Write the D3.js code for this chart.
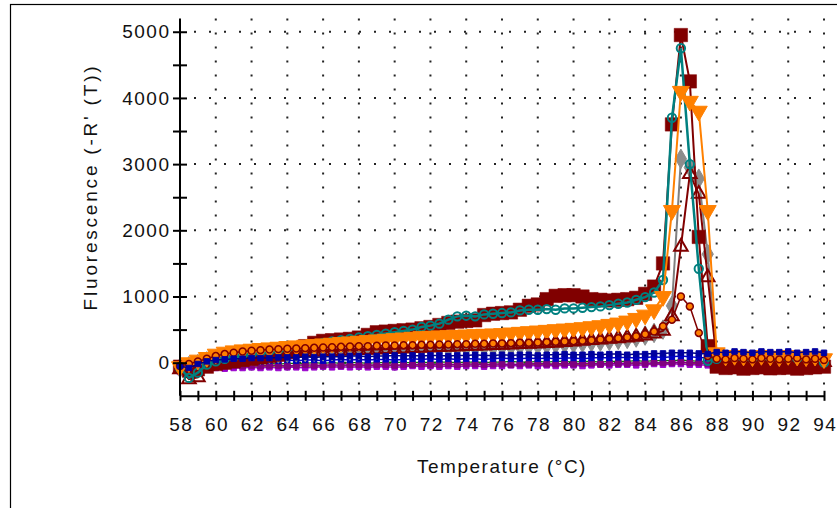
<!DOCTYPE html>
<html>
<head>
<meta charset="utf-8">
<script src="https://cdn.jsdelivr.net/npm/d3@7"></script>
<style>
  html, body { margin: 0; padding: 0; background: #fff; }
  svg { display: block; font-family: "Liberation Sans", Arial, sans-serif; }
</style>
</head>
<body>
<svg id="chart" width="837" height="508"></svg>
<script>
// Melt-curve derivative readings, one value per temperature step
const temps = [58,58.5,59,59.5,60,60.5,61,61.5,62,62.5,63,63.5,64,64.5,65,65.5,66,66.5,67,67.5,
  68,68.5,69,69.5,70,70.5,71,71.5,72,72.5,73,73.5,74,74.5,75,75.5,76,76.5,77,77.5,
  78,78.5,79,79.5,80,80.5,81,81.5,82,82.5,83,83.5,84,84.5,85,85.5,86,86.5,87,87.5,
  88,88.5,89,89.5,90,90.5,91,91.5,92,92.5,93,93.5,94];

const maroonSquares = [
  -60,-120,-100,-60,-20,0,20,40,60,80,
  100,120,160,200,250,300,330,340,350,360,
  380,420,460,470,480,490,500,520,540,570,
  600,620,630,640,720,740,750,760,800,860,
  880,960,1010,1020,1020,1000,960,950,940,950,
  960,980,1040,1150,1500,3600,4950,4250,1900,250,
  -60,-80,-70,-90,-80,-70,-85,-80,-75,-90,-80,-70,-60];

const tealCircles = [
  -80,-230,-150,-30,20,60,90,120,140,160,
  180,200,220,240,260,280,300,320,340,360,
  380,400,420,440,460,480,500,540,560,590,
  650,700,710,700,730,740,750,760,790,800,
  800,810,800,820,820,830,840,850,870,890,
  910,950,990,1060,1250,3700,4750,3000,1420,30,
  60,80,90,80,70,90,80,90,80,70,80,90,0];

const orangeTriangles = [
  -60,0,40,80,130,160,180,195,205,215,
  225,235,245,255,265,275,285,295,305,315,
  325,335,345,355,365,375,385,395,400,405,
  410,415,420,425,430,435,440,450,460,470,
  480,490,500,510,520,530,545,560,580,600,
  630,670,720,800,1000,2300,4100,3950,3800,2300,
  150,100,110,100,90,110,100,90,110,100,90,100,60];

const grayDiamonds = [
  -80,-50,-20,20,50,70,90,100,110,120,
  130,140,150,155,160,165,170,175,180,185,
  190,195,200,200,205,210,210,215,220,220,
  225,230,230,235,240,240,245,250,255,260,
  265,270,280,285,290,300,310,320,330,345,
  360,380,410,450,500,860,3080,2950,2780,1640,
  60,30,20,40,30,20,30,40,20,30,40,30,20];

const maroonOpenTriangles = [
  -100,-250,-220,-50,0,30,60,80,100,110,
  120,130,140,150,160,165,170,175,180,185,
  190,195,200,205,210,215,220,225,230,235,
  240,245,250,255,260,265,270,275,280,285,
  290,295,300,310,320,330,340,350,360,370,
  380,390,410,440,480,700,1750,2850,2550,1290,
  40,20,10,20,10,0,10,20,10,0,10,20,10];

const orangeDots = [
  -50,-20,20,60,100,130,150,170,180,190,
  200,205,210,215,220,225,230,235,240,245,
  250,250,255,260,260,265,265,270,270,275,
  275,280,280,285,285,290,290,295,300,300,
  305,310,315,320,325,330,340,350,360,370,
  385,400,430,470,550,650,1000,850,450,100,
  60,50,70,60,50,70,60,50,60,70,50,60,40];

const navyMarks = [
  -50,-80,-20,20,40,50,60,60,70,70,
  70,80,80,80,90,80,90,90,90,100,
  100,90,100,100,110,100,110,100,110,110,
  100,110,110,120,110,110,120,110,120,120,
  110,120,120,130,120,120,130,120,130,130,
  120,130,130,140,140,150,150,150,140,130,
  160,150,170,160,150,170,160,160,170,150,160,170,150];

const blueMarks = [
  -80,-60,-40,-10,0,10,20,20,30,20,
  30,30,40,30,40,40,30,40,50,40,
  50,40,50,50,40,50,60,50,60,50,
  60,50,60,60,50,60,70,60,60,70,
  60,70,60,70,70,60,70,80,70,80,
  80,70,80,90,80,90,100,90,80,70,
  90,80,90,100,80,90,100,90,80,100,90,80,70];

const purpleMarks = [
  -110,-130,-80,-60,-50,-50,-40,-50,-40,-50,
  -40,-40,-50,-40,-30,-40,-40,-30,-40,-30,
  -30,-40,-30,-30,-40,-30,-30,-20,-30,-30,
  -20,-30,-20,-20,-30,-20,-20,-30,-20,-20,
  -10,-20,-20,-10,-20,-10,-10,-20,-10,-10,
  -10,0,-10,0,0,0,10,0,0,-10,
  -10,-20,-10,-20,-10,-20,-10,-20,-20,-10,-20,-20,-30];

const violetMarks = [
  -140,-120,-100,-90,-80,-90,-80,-80,-70,-80,
  -70,-80,-70,-70,-80,-70,-60,-70,-60,-70,
  -60,-70,-60,-60,-70,-60,-50,-60,-50,-60,
  -50,-60,-50,-50,-60,-50,-50,-40,-50,-40,
  -50,-40,-50,-40,-40,-50,-40,-30,-40,-30,
  -30,-40,-30,-20,-30,-20,-20,-30,-30,-40,
  -50,-40,-50,-40,-50,-40,-50,-50,-40,-50,-40,-50,-60];

const greenMarks = [
  -90,-110,-60,-40,-30,-30,-20,-20,-20,-20,
  -10,-20,-10,-10,-10,0,-10,0,-10,0,
  0,-10,0,0,10,0,0,10,0,10,
  10,0,10,10,0,10,10,20,10,10,
  20,10,20,20,10,20,20,10,20,20,
  20,30,20,30,30,30,40,30,20,10,
  0,-10,0,-10,0,-10,0,-10,-10,0,-10,-10,-20];

const oliveMarks = [
  -120,-150,-100,-80,-70,-70,-60,-60,-60,-60,
  -60,-50,-60,-50,-50,-60,-50,-50,-50,-40,
  -50,-40,-50,-40,-40,-50,-40,-40,-40,-30,
  -40,-30,-40,-30,-30,-40,-30,-30,-30,-20,
  -30,-20,-30,-20,-20,-30,-20,-20,-20,-10,
  -20,-10,-20,-10,-10,-10,0,-10,-10,-20,
  -30,-40,-30,-40,-30,-40,-30,-40,-40,-30,-40,-40,-50];

const xTickValues = [58,59,60,61,62,63,64,65,66,67,68,69,70,71,72,73,74,75,76,77,78,79,80,81,82,83,84,85,86,87,88,89,90,91,92,93,94];
const xTickLabels = [58,60,62,64,66,68,70,72,74,76,78,80,82,84,86,88,90,92,94];
const yTickLabels = [0,1000,2000,3000,4000,5000];
const yMinorTicks = [500,1500,2500,3500,4500];

const svg = d3.select("#chart");
const FONT = 19, SPACING = 1.5;

// outer frame
svg.append("rect")
  .attr("x", 10.5).attr("y", 4.5).attr("width", 900).attr("height", 600)
  .attr("fill", "none").attr("stroke", "#000").attr("stroke-width", 1.2);

const x = d3.scaleLinear().domain([58, 94]).range([180, 824]);
const y = d3.scaleLinear().domain([-500, 5200]).range([395.8, 18.5]);

// dotted grid
const grid = svg.append("g").attr("stroke", "#222").attr("stroke-width", 2).attr("fill", "none");
grid.selectAll("line.h").data(yTickLabels).join("line")
  .attr("x1", x(58) + 14).attr("x2", x(94))
  .attr("y1", d => y(d)).attr("y2", d => y(d))
  .attr("stroke-dasharray", "2 13");
grid.selectAll("line.v").data(xTickLabels.slice(1)).join("line")
  .attr("x1", d => x(d)).attr("x2", d => x(d))
  .attr("y1", y(5200)).attr("y2", y(-500))
  .attr("stroke-dasharray", "2 12");

// series, drawn back to front
const series = [
  { values: oliveMarks, color: "#808000", shape: d3.symbolCircle, size: 24, fill: "#808000", stroke: "#808000", sw: 1, lw: 1.2 },
  { values: greenMarks, color: "#008000", shape: d3.symbolCircle, size: 24, fill: "#008000", stroke: "#008000", sw: 1, lw: 1.2 },
  { values: violetMarks, color: "#9900cc", shape: d3.symbolSquare, size: 30, fill: "#9900cc", stroke: "#9900cc", sw: 1, lw: 1.5 },
  { values: purpleMarks, color: "#800080", shape: d3.symbolSquare, size: 34, fill: "#800080", stroke: "#800080", sw: 1, lw: 1.5 },
  { values: blueMarks, color: "#0000c0", shape: d3.symbolSquare, size: 28, fill: "#0000c0", stroke: "#0000c0", sw: 1, lw: 1.5 },
  { values: grayDiamonds, color: "#808080", shape: d3.symbolDiamond, size: 110, fill: "#8c8c8c", stroke: "#8c8c8c", sw: 1, lw: 2 },
  { values: maroonOpenTriangles, color: "#800000", shape: d3.symbolTriangle, size: 80, fill: "none", stroke: "#800000", sw: 2, lw: 2 },
  { values: maroonSquares, color: "#800000", shape: d3.symbolSquare, size: 180, fill: "#800000", stroke: "#800000", sw: 0.5, lw: 2 },
  { values: tealCircles, color: "#008080", shape: d3.symbolCircle, size: 55, fill: "none", stroke: "#008080", sw: 2, lw: 2.5 },
  { values: orangeTriangles, color: "#ff8000", shape: d3.symbolTriangle, size: 125, fill: "#ff8000", stroke: "#ff8000", sw: 1, lw: 2, flip: true },
  { values: orangeDots, color: "#800000", shape: d3.symbolCircle, size: 38, fill: "#ff8000", stroke: "#800000", sw: 1.5, lw: 1.5 },
  { values: navyMarks, color: "#000080", shape: d3.symbolSquare, size: 30, fill: "#0000a0", stroke: "#0000a0", sw: 1, lw: 1.5 }
];

const line = d3.line().x((d, i) => x(temps[i])).y(d => y(d));

series.forEach(s => {
  const g = svg.append("g");
  g.append("path").datum(s.values)
    .attr("d", line)
    .attr("fill", "none").attr("stroke", s.color).attr("stroke-width", s.lw);
  g.selectAll("path.m").data(s.values).join("path")
    .attr("class", "m")
    .attr("d", d3.symbol().type(s.shape).size(s.size))
    .attr("transform", (d, i) => `translate(${x(temps[i])},${y(d)})` + (s.flip ? " rotate(180)" : ""))
    .attr("fill", s.fill).attr("stroke", s.stroke).attr("stroke-width", s.sw);
});

// axes
const yAxis = d3.axisLeft(y).tickValues(yTickLabels.concat(yMinorTicks).sort((a, b) => a - b))
  .tickFormat(d => yTickLabels.includes(d) ? d : "").tickSizeInner(7).tickSizeOuter(0).tickPadding(4);
const gy = svg.append("g").attr("transform", `translate(${x(58)},0)`).call(yAxis);
gy.select(".domain").attr("d", `M0,${y(5200)}V${y(-500)}`).attr("stroke-width", 2);
gy.selectAll(".tick line").attr("x1", 7).attr("x2", -7).attr("stroke-width", 2);
gy.selectAll(".tick text").attr("dx", SPACING);

const xAxis = d3.axisBottom(x).tickValues(xTickValues)
  .tickFormat(d => xTickLabels.includes(d) ? d : "").tickSizeInner(5).tickSizeOuter(0).tickPadding(17);
const gx = svg.append("g").attr("transform", `translate(0,${y(-500)})`).call(xAxis);
gx.select(".domain").attr("stroke-width", 2);
gx.selectAll(".tick line").attr("y1", -5).attr("y2", 5).attr("stroke-width", 2);
gx.selectAll(".tick text").attr("dx", SPACING / 2);

svg.selectAll(".tick text").attr("font-size", FONT).attr("letter-spacing", SPACING)
  .attr("font-family", "'Liberation Sans', Arial, sans-serif").attr("fill", "#111");

// axis titles
svg.append("text").attr("x", 502).attr("y", 473).attr("text-anchor", "middle")
  .attr("font-size", FONT).attr("letter-spacing", SPACING).attr("fill", "#111").text("Temperature (°C)");
svg.append("text").attr("transform", "translate(97,187) rotate(-90)").attr("text-anchor", "middle")
  .attr("font-size", FONT).attr("letter-spacing", 2.8).attr("fill", "#111").text("Fluorescence (-R' (T))");
</script>
</body>
</html>
